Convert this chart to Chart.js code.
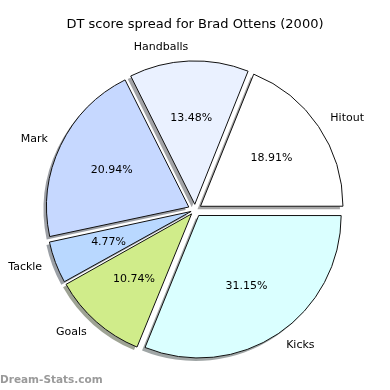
<!DOCTYPE html>
<html>
<head>
<meta charset="utf-8">
<script src="https://cdn.jsdelivr.net/npm/chart.js@4/dist/chart.umd.min.js"></script>
<style>
  html, body { margin: 0; padding: 0; background: #fff; }
  #wrap { width: 390px; height: 390px; position: relative; }
</style>
</head>
<body>
<div id="wrap"><canvas id="pie"></canvas></div>
<script>
// listed clockwise from 3 o'clock (reference runs counter-clockwise)
const categories = ['Kicks', 'Goals', 'Tackle', 'Mark', 'Handballs', 'Hitout'];
const shares = [31.15, 10.74, 4.77, 20.94, 13.48, 18.91];
const colours = ['#daffff', '#d0ec8a', '#b9d8ff', '#c6d8ff', '#eaf1ff', '#ffffff'];
const titleText = 'DT score spread for Brad Ottens (2000)';
const watermark = 'Dream-Stats.com';

const RADIUS = 142;
const EXPLODE = 0.05 * RADIUS;
const total = shares.reduce((s, v) => s + v, 0);

// chart.js shifts an arc by offset/4 * (1 + fix), fix = 1 - sin(circ); undo that
const offsets = shares.map(v => {
  const circ = v / total * Math.PI * 2;
  const fix = 1 - Math.sin(Math.min(Math.PI, circ));
  return EXPLODE * 4 / (1 + fix);
});

const shadowOf = hex => {
  const n = parseInt(hex.slice(1), 16);
  const r = Math.round(((n >> 16) & 255) * 0.3);
  const g = Math.round(((n >> 8) & 255) * 0.3);
  const b = Math.round((n & 255) * 0.3);
  return `rgba(${r},${g},${b},0.5)`;
};

const pieExtras = {
  id: 'pieExtras',
  beforeDatasetsDraw(chart) {
    const ctx = chart.ctx;
    const meta = chart.getDatasetMeta(0);
    ctx.save();
    ctx.translate(-3, 3);
    meta.data.forEach((arc, i) => {
      const orig = arc.options;
      const c = shadowOf(colours[i]);
      arc.options = Object.assign({}, orig, { backgroundColor: c, borderColor: c, borderWidth: 0 });
      arc.draw(ctx);
      arc.options = orig;
    });
    ctx.restore();
  },
  afterDatasetsDraw(chart) {
    const ctx = chart.ctx;
    const meta = chart.getDatasetMeta(0);
    ctx.save();
    ctx.fillStyle = '#000';
    ctx.font = '11px "DejaVu Sans"';
    ctx.textBaseline = 'middle';
    meta.data.forEach((arc, i) => {
      const mid = (arc.startAngle + arc.endAngle) / 2;
      const r = arc.outerRadius;
      const cos = Math.cos(mid), sin = Math.sin(mid);
      const lx = arc.x + cos * (EXPLODE + 1.1 * r);
      const ly = arc.y + sin * (EXPLODE + 1.1 * r);
      ctx.textAlign = lx > arc.x ? 'left' : 'right';
      ctx.fillText(categories[i], lx, ly);
      const px = arc.x + cos * (EXPLODE + 0.6 * r);
      const py = arc.y + sin * (EXPLODE + 0.6 * r);
      ctx.textAlign = 'center';
      ctx.fillText(shares[i].toFixed(2) + '%', px, py);
    });
    ctx.font = '13px "DejaVu Sans"';
    ctx.textAlign = 'center';
    ctx.fillText(titleText, 195, 25);
    ctx.font = 'bold 10.5px "DejaVu Sans"';
    ctx.fillStyle = '#9a9a9a';
    ctx.textAlign = 'left';
    ctx.fillText(watermark, 0, 380);
    ctx.restore();
  }
};

new Chart(document.getElementById('pie'), {
  type: 'pie',
  data: {
    labels: categories,
    datasets: [{
      data: shares,
      backgroundColor: colours,
      borderColor: '#111',
      borderWidth: 1,
      offset: offsets,
      hoverOffset: 0
    }]
  },
  options: {
    responsive: true,
    maintainAspectRatio: false,
    devicePixelRatio: 1,
    animation: false,
    events: [],
    rotation: 90,
    radius: RADIUS,
    layout: { padding: { top: 30, bottom: 0, left: 0, right: 0 } },
    plugins: {
      legend: { display: false },
      tooltip: { enabled: false },
      title: { display: false }
    }
  },
  plugins: [pieExtras]
});
</script>
</body>
</html>
